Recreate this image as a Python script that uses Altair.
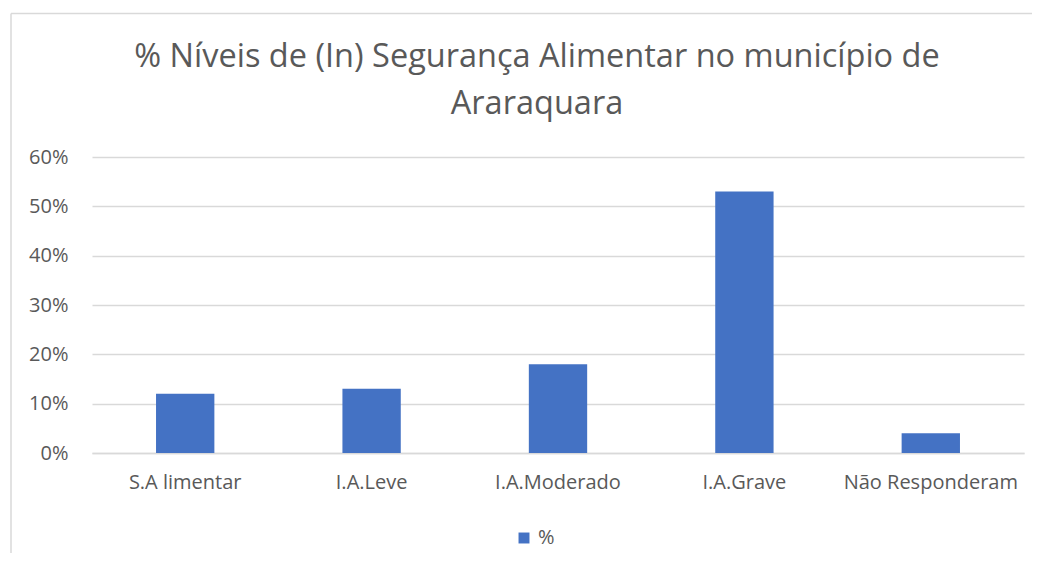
import altair as alt
import pandas as pd

categories = ["S.A limentar", "I.A.Leve", "I.A.Moderado", "I.A.Grave", "Não Responderam"]
values = [0.12, 0.13, 0.18, 0.53, 0.04]
series_name = "%"
y_ticks = [0, 0.1, 0.2, 0.3, 0.4, 0.5, 0.6]
title_lines = ["% Níveis de (In) Segurança Alimentar no município de", "Araraquara"]

df = pd.DataFrame({"cat": categories, "val": values, "series": [series_name] * len(categories)})

TEXT = "#595959"
GRID = "#d9d9d9"
FONT = "Open Sans"

bars = alt.Chart(df).mark_bar(color="#4472C4").encode(
    x=alt.X("cat:N", sort=categories, title=None,
            scale=alt.Scale(paddingInner=0.687, paddingOuter=0.3435),
            axis=alt.Axis(labelAngle=0, ticks=False, domainColor=GRID, domainWidth=1.5,
                          labelFontSize=20, labelColor=TEXT, labelFont=FONT,
                          labelPadding=19)),
    y=alt.Y("val:Q", title=None,
            scale=alt.Scale(domain=[0, 0.6], nice=False),
            axis=alt.Axis(values=y_ticks, format=".0%", ticks=False, domain=False,
                          gridColor=GRID, gridWidth=1.5, labelFontSize=20, labelColor=TEXT,
                          labelFont=FONT, labelPadding=24)),
    color=alt.Color("series:N", scale=alt.Scale(range=["#4472C4"]),
                    legend=alt.Legend(title=None, orient="none", legendX=422, legendY=371,
                                      symbolType="square", symbolSize=120, symbolStrokeWidth=0,
                                      labelFontSize=20, labelColor=TEXT, labelFont=FONT,
                                      padding=0, labelOffset=4)),
)

frame_df = pd.DataFrame({"k": [0]})
top_border = alt.Chart(frame_df).mark_rule(color=GRID, strokeWidth=1.5).encode(
    x=alt.value(-81), x2=alt.value(960), y=alt.value(-143.5))
left_border = alt.Chart(frame_df).mark_rule(color=GRID, strokeWidth=1.5).encode(
    x=alt.value(-81), y=alt.value(-143.5), y2=alt.value(420))

chart = alt.layer(top_border, left_border, bars).properties(
    width=932, height=296,
    autosize=alt.AutoSizeParams(type="none"),
    padding={"left": 84, "top": 149, "right": 8, "bottom": 100},
    title=alt.TitleParams(text=title_lines, fontSize=32.5, font=FONT, fontWeight="normal",
                          color=TEXT, anchor="middle", frame="group", dx=-21, offset=-134,
                          baseline="alphabetic", lineHeight=47),
).configure_view(stroke=None)

chart.save("out.html", embed_options={"renderer": "svg", "actions": False})
